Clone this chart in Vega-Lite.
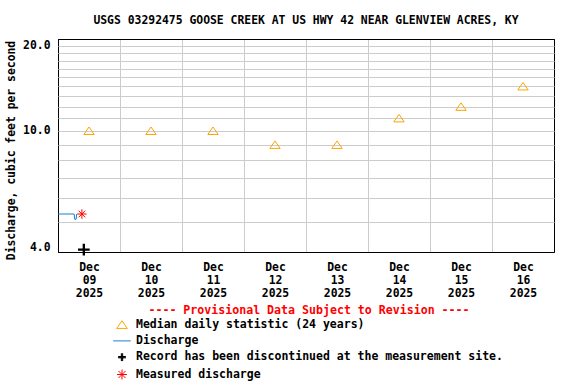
{
  "$schema": "https://vega.github.io/schema/vega-lite/v6.json",
  "width": 496,
  "height": 213,
  "autosize": {"type": "none"},
  "padding": {"left": 58, "top": 39, "right": 22, "bottom": 132},
  "background": "white",
  "config": {"view": {"stroke": "black", "strokeWidth": 1}, "font": "DejaVu Sans Mono"},
  "title": {
    "text": "USGS 03292475 GOOSE CREEK AT US HWY 42 NEAR GLENVIEW ACRES, KY",
    "font": "DejaVu Sans Mono", "fontSize": 11.4, "fontWeight": "bold",
    "anchor": "middle", "offset": 13, "color": "black"
  },
  "datasets": {
    "discharge": [
      {"t": "2025-12-09T00:00:00Z", "v": 5.33, "s": "discharge"},
      {"t": "2025-12-09T06:15:00Z", "v": 5.33, "s": "discharge"},
      {"t": "2025-12-09T06:30:00Z", "v": 5.12, "s": "discharge"},
      {"t": "2025-12-09T07:00:00Z", "v": 5.12, "s": "discharge"},
      {"t": "2025-12-09T07:15:00Z", "v": 5.33, "s": "discharge"}
    ],
    "median": [
      {"t": "2025-12-09T12:00:00Z", "v": 10.0, "s": "median"},
      {"t": "2025-12-10T12:00:00Z", "v": 10.0, "s": "median"},
      {"t": "2025-12-11T12:00:00Z", "v": 10.0, "s": "median"},
      {"t": "2025-12-12T12:00:00Z", "v": 9.0, "s": "median"},
      {"t": "2025-12-13T12:00:00Z", "v": 9.0, "s": "median"},
      {"t": "2025-12-14T12:00:00Z", "v": 11.0, "s": "median"},
      {"t": "2025-12-15T12:00:00Z", "v": 12.0, "s": "median"},
      {"t": "2025-12-16T12:00:00Z", "v": 14.0, "s": "median"}
    ],
    "record": [
      {"t": "2025-12-09T10:00:00Z", "v": 4.07, "s": "record"}
    ],
    "measured": [
      {"t": "2025-12-09T09:15:00Z", "v": 5.33, "s": "measured"}
    ]
  },
  "encoding": {
    "x": {
      "field": "t", "type": "temporal",
      "scale": {"type": "utc", "domain": [{"year": 2025, "month": 12, "date": 9, "utc": true}, {"year": 2025, "month": 12, "date": 17, "utc": true}]},
      "axis": {
        "values": [
          {"year": 2025, "month": 12, "date": 9, "utc": true},
          {"year": 2025, "month": 12, "date": 10, "utc": true},
          {"year": 2025, "month": 12, "date": 11, "utc": true},
          {"year": 2025, "month": 12, "date": 12, "utc": true},
          {"year": 2025, "month": 12, "date": 13, "utc": true},
          {"year": 2025, "month": 12, "date": 14, "utc": true},
          {"year": 2025, "month": 12, "date": 15, "utc": true},
          {"year": 2025, "month": 12, "date": 16, "utc": true}
        ],
        "title": null,
        "grid": true,
        "gridColor": {"condition": {"test": "utcdate(datum.value) == 9", "value": "black"}, "value": "#cccccc"},
        "ticks": false,
        "domain": false,
        "labelExpr": "[utcFormat(datum.value, '%b'), utcFormat(datum.value, '%d'), utcFormat(datum.value, '%Y')]",
        "labelOffset": 31,
        "labelPadding": 9,
        "labelLineHeight": 13,
        "labelFont": "DejaVu Sans Mono", "labelFontSize": 11.4, "labelFontWeight": "bold", "labelColor": "black",
        "labelOverlap": false, "labelFlush": false, "labelBound": false,
        "labelAlign": "center", "labelBaseline": "top"
      }
    },
    "y": {
      "field": "v", "type": "quantitative",
      "scale": {"type": "log", "domain": [4, 20], "nice": false},
      "axis": {
        "values": [4, 5, 6, 7, 8, 9, 10, 11, 12, 13, 14, 15, 16, 17, 18, 19, 20],
        "title": "Discharge, cubic feet per second",
        "labelExpr": "datum.value == 4 || datum.value == 10 || datum.value == 20 ? format(datum.value, '.1f') : ''",
        "grid": true,
        "gridColor": {"condition": {"test": "datum.value == 4 || datum.value == 20", "value": "black"}, "value": "#cccccc"},
        "ticks": false,
        "domain": false,
        "labelPadding": 8,
        "labelFlush": true,
        "labelOverlap": false,
        "labelFont": "DejaVu Sans Mono", "labelFontSize": 11.4, "labelFontWeight": "bold", "labelColor": "black",
        "titleFont": "DejaVu Sans Mono", "titleFontSize": 11.4, "titleFontWeight": "bold", "titleColor": "black",
        "titleAngle": -90, "titleAlign": "center", "titleBaseline": "middle",
        "titleX": -47, "titleY": 111
      }
    }
  },
  "layer": [
    {
      "data": {"name": "discharge"},
      "mark": {"type": "line", "color": "#1a7fd6", "strokeWidth": 1}
    },
    {
      "data": {"name": "median"},
      "mark": {"type": "point", "filled": false, "opacity": 1, "size": 115, "strokeWidth": 1},
      "encoding": {
        "shape": {
          "field": "s", "type": "nominal",
          "scale": {"domain": ["median", "discharge", "record", "measured"], "range": ["M0,-0.7L0.97,0.7L-0.97,0.7Z", "M-1.6,0H1.6", "M-0.7,-0.12H0.7M-0.7,0H0.7M-0.7,0.12H0.7M-0.12,-0.7V0.7M0,-0.7V0.7M0.12,-0.7V0.7", "M-0.9,0H0.9M0,-0.9V0.9M-0.64,-0.64L0.64,0.64M-0.64,0.64L0.64,-0.64"]},
          "legend": {
            "title": "---- Provisional Data Subject to Revision ----",
            "orient": "none", "legendX": 58, "legendY": 266, "direction": "vertical",
            "padding": 0,
            "titleColor": "red", "titleFont": "DejaVu Sans Mono", "titleFontSize": 11.6, "titleFontWeight": "bold",
            "titleAnchor": "middle", "titlePadding": 2, "titleLimit": 1000,
            "labelFont": "DejaVu Sans Mono", "labelFontSize": 11.5, "labelFontWeight": "bold", "labelColor": "black",
            "labelOffset": 8, "labelLimit": 1000,
            "labelExpr": "datum.value == 'median' ? 'Median daily statistic (24 years)' : datum.value == 'discharge' ? 'Discharge' : datum.value == 'record' ? 'Record has been discontinued at the measurement site.' : 'Measured discharge'",
            "symbolSize": 121, "symbolStrokeWidth": 1, "symbolOpacity": 1, "rowPadding": 4.3
          }
        },
        "color": {
          "field": "s", "type": "nominal",
          "scale": {"domain": ["median", "discharge", "record", "measured"], "range": ["#FFA500", "#1a7fd6", "black", "red"]},
          "legend": {
            "title": "---- Provisional Data Subject to Revision ----",
            "orient": "none", "legendX": 58, "legendY": 266, "direction": "vertical",
            "padding": 0,
            "titleColor": "red", "titleFont": "DejaVu Sans Mono", "titleFontSize": 11.6, "titleFontWeight": "bold",
            "titleAnchor": "middle", "titlePadding": 2, "titleLimit": 1000,
            "labelFont": "DejaVu Sans Mono", "labelFontSize": 11.5, "labelFontWeight": "bold", "labelColor": "black",
            "labelOffset": 8, "labelLimit": 1000,
            "labelExpr": "datum.value == 'median' ? 'Median daily statistic (24 years)' : datum.value == 'discharge' ? 'Discharge' : datum.value == 'record' ? 'Record has been discontinued at the measurement site.' : 'Measured discharge'",
            "symbolSize": 121, "symbolStrokeWidth": 1, "symbolOpacity": 1, "rowPadding": 4.3
          }
        }
      }
    },
    {
      "data": {"name": "record"},
      "mark": {"type": "point", "filled": true, "color": "black", "opacity": 1, "size": 137, "strokeWidth": 0, "shape": "M-1,-0.2H-0.2V-1H0.2V-0.2H1V0.2H0.2V1H-0.2V0.2H-1Z"}
    },
    {
      "data": {"name": "measured"},
      "mark": {"type": "point", "filled": false, "color": "red", "opacity": 1, "size": 90, "strokeWidth": 1, "shape": "M-1,0H1M0,-1V1M-0.7,-0.7L0.7,0.7M-0.7,0.7L0.7,-0.7"}
    }
  ]
}
